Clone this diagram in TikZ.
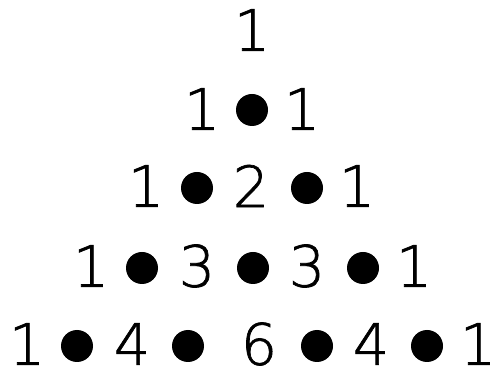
\documentclass[tikz,border=0pt]{standalone}
\usepackage{fontspec}
\setmainfont{DejaVu Sans}
\newfontfamily\digitfont[FakeBold=1.2]{DejaVu Sans ExtraLight}
\begin{document}
\begin{tikzpicture}[x=1pt,y=1pt,
  num/.style={inner sep=0pt,font=\digitfont\fontsize{57}{57}\selectfont},
  dot/.style={circle,fill=black,inner sep=0pt,minimum size=32pt}]
\useasboundingbox (0,0) rectangle (496,-371);
% row 1
\node[num] (r1a) at (252,-30) {1};
% row 2
\node[num] (r2a) at (202,-109) {1};
\node[dot] (r2d1) at (252,-110) {};
\node[num] (r2b) at (302,-109) {1};
% row 3
\node[num] (r3a) at (146,-186) {1};
\node[dot] (r3d1) at (197,-188) {};
\node[num] (r3b) at (251,-186) {2};
\node[dot] (r3d2) at (307,-188) {};
\node[num] (r3c) at (357,-186) {1};
% row 4
\node[num] (r4a) at (91,-266) {1};
\node[dot] (r4d1) at (142,-268) {};
\node[num] (r4b) at (197,-266) {3};
\node[dot] (r4d2) at (253,-268) {};
\node[num] (r4c) at (307,-266) {3};
\node[dot] (r4d3) at (363,-268) {};
\node[num] (r4d) at (414,-266) {1};
% row 5
\node[num] (r5a) at (27,-344) {1};
\node[dot] (r5d1) at (77,-346) {};
\node[num] (r5b) at (132,-344) {4};
\node[dot] (r5d2) at (188,-346) {};
\node[num] (r5c) at (259,-344) {6};
\node[dot] (r5d3) at (317,-346) {};
\node[num] (r5d) at (371,-344) {4};
\node[dot] (r5d4) at (427,-346) {};
\node[num] (r5e) at (478,-344) {1};
\end{tikzpicture}
\end{document}
